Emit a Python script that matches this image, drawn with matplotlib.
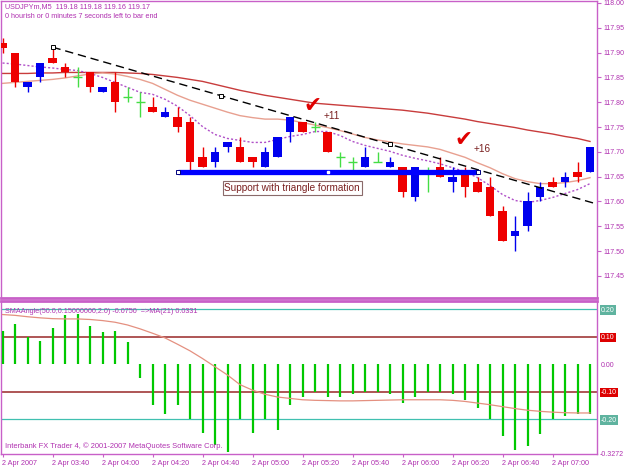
import matplotlib
matplotlib.use('Agg')
import matplotlib.pyplot as plt
import numpy as np
from matplotlib.transforms import ScaledTranslation

# ---------------- data ----------------
opens  = [117.92, 117.90, 117.83, 117.85, 117.89, 117.87, 117.85, 117.86, 117.82, 117.84,
          117.81, 117.80, 117.79, 117.77, 117.77, 117.76, 117.69, 117.68, 117.71, 117.71,
          117.69, 117.67, 117.69, 117.74, 117.76, 117.75, 117.74, 117.69, 117.68, 117.67,
          117.68, 117.67, 117.67, 117.61, 117.66, 117.67, 117.64, 117.66, 117.64, 117.63,
          117.58, 117.53, 117.55, 117.61, 117.64, 117.64, 117.66, 117.66]
highs  = [117.93, 117.90, 117.84, 117.88, 117.91, 117.88, 117.87, 117.86, 117.83, 117.86,
          117.83, 117.82, 117.81, 117.79, 117.79, 117.77, 117.71, 117.71, 117.72, 117.73,
          117.69, 117.71, 117.73, 117.77, 117.76, 117.76, 117.74, 117.70, 117.69, 117.71,
          117.70, 117.69, 117.67, 117.67, 117.67, 117.69, 117.67, 117.67, 117.65, 117.65,
          117.59, 117.57, 117.62, 117.64, 117.65, 117.66, 117.68, 117.71]
lows   = [117.90, 117.83, 117.82, 117.84, 117.88, 117.85, 117.83, 117.82, 117.82, 117.78,
          117.80, 117.77, 117.78, 117.77, 117.74, 117.66, 117.67, 117.67, 117.70, 117.68,
          117.67, 117.67, 117.69, 117.72, 117.74, 117.74, 117.70, 117.67, 117.66, 117.67,
          117.68, 117.67, 117.61, 117.60, 117.62, 117.65, 117.62, 117.61, 117.62, 117.57,
          117.52, 117.50, 117.54, 117.60, 117.63, 117.63, 117.64, 117.66]
closes = [117.91, 117.84, 117.84, 117.88, 117.88, 117.86, 117.85, 117.83, 117.83, 117.80,
          117.81, 117.80, 117.78, 117.78, 117.75, 117.68, 117.67, 117.70, 117.72, 117.68,
          117.68, 117.70, 117.73, 117.77, 117.74, 117.75, 117.70, 117.69, 117.68, 117.69,
          117.68, 117.68, 117.62, 117.67, 117.66, 117.65, 117.65, 117.63, 117.62, 117.57,
          117.52, 117.54, 117.60, 117.63, 117.63, 117.65, 117.65, 117.71]

ma_slow = [117.858, 117.858, 117.858, 117.859, 117.859, 117.860, 117.860, 117.860, 117.860, 117.860,
           117.859, 117.858, 117.856, 117.853, 117.850, 117.846, 117.842, 117.836, 117.830, 117.824,
           117.819, 117.814, 117.810, 117.806, 117.802, 117.798, 117.796, 117.794, 117.792, 117.790,
           117.788, 117.786, 117.784, 117.781, 117.778, 117.774, 117.770, 117.766, 117.761, 117.757,
           117.753, 117.749, 117.744, 117.740, 117.736, 117.731, 117.727, 117.721]
ma_mid  = [117.838, 117.840, 117.842, 117.844, 117.846, 117.849, 117.853, 117.857, 117.859, 117.857,
           117.852, 117.846, 117.838, 117.826, 117.814, 117.804, 117.796, 117.788, 117.780, 117.773,
           117.769, 117.766, 117.766, 117.764, 117.759, 117.754, 117.749, 117.743, 117.736, 117.729,
           117.724, 117.720, 117.716, 117.713, 117.710, 117.705, 117.697, 117.689, 117.678, 117.668,
           117.656, 117.646, 117.640, 117.636, 117.636, 117.638, 117.642, 117.648]
ma_fast = [117.879, 117.877, 117.874, 117.871, 117.869, 117.866, 117.864, 117.858, 117.850, 117.840,
           117.830, 117.820, 117.816, 117.806, 117.792, 117.773, 117.751, 117.735, 117.727, 117.723,
           117.719, 117.719, 117.725, 117.731, 117.735, 117.741, 117.741, 117.733, 117.721, 117.713,
           117.707, 117.701, 117.693, 117.687, 117.682, 117.676, 117.668, 117.660, 117.648, 117.632,
           117.614, 117.602, 117.598, 117.602, 117.608, 117.616, 117.624, 117.636]

angle = [0.120, 0.145, 0.098, 0.084, 0.131, 0.178, 0.182, 0.138, 0.116, 0.120,
         0.080, -0.050, -0.150, -0.180, -0.150, -0.200, -0.250, -0.295, -0.320, -0.200,
         -0.250, -0.200, -0.240, -0.150, -0.120, -0.100, -0.120, -0.120, -0.110, -0.100,
         -0.100, -0.110, -0.140, -0.120, -0.100, -0.100, -0.110, -0.130, -0.160, -0.200,
         -0.260, -0.312, -0.298, -0.255, -0.200, -0.190, -0.180, -0.180]
angle_ma = [0.180, 0.177, 0.172, 0.168, 0.165, 0.164, 0.164, 0.162, 0.158, 0.152,
            0.142, 0.128, 0.112, 0.095, 0.072, 0.048, 0.020, -0.010, -0.040, -0.075,
            -0.095, -0.110, -0.120, -0.125, -0.130, -0.132, -0.133, -0.134, -0.134, -0.133,
            -0.132, -0.131, -0.130, -0.130, -0.130, -0.130, -0.132, -0.136, -0.142, -0.148,
            -0.155, -0.162, -0.168, -0.172, -0.175, -0.177, -0.178, -0.178]

trend_bars = [4, 31]
trend_prices = [117.911, 117.715]
support_bars = [14, 38]
support_price = 117.66

price_ticks = [118.00, 117.95, 117.90, 117.85, 117.80, 117.75, 117.70, 117.65, 117.60, 117.55, 117.50, 117.45]
angle_levels = [0.20, 0.10, 0.00, -0.10, -0.20, -0.3272]
angle_level_labels = ['0.20', '0.10', '0.00', '-0.10', '-0.20', '-0.3272']
time_bars = [0, 4, 8, 12, 16, 20, 24, 28, 32, 36, 40, 44]
time_labels = ['2 Apr 2007', '2 Apr 03:40', '2 Apr 04:00', '2 Apr 04:20', '2 Apr 04:40', '2 Apr 05:00',
               '2 Apr 05:20', '2 Apr 05:40', '2 Apr 06:00', '2 Apr 06:20', '2 Apr 06:40', '2 Apr 07:00']

# ---------------- style ----------------
PURPLE = '#b030b0'
FRAME = '#c860c8'
RED = '#ee0000'
BLUE = '#0000ee'
GREEN = '#44dd44'
FONT = 'Liberation Sans'
FS = 5.0
small = dict(family=FONT, fontsize=5.2, color=PURPLE)

fig = plt.figure(figsize=(6.25, 4.69), dpi=100)
W, H = 625, 469
def rect(x0, y0, x1, y1):
    return [x0 / W, 1 - y1 / H, (x1 - x0) / W, (y1 - y0) / H]

ax = fig.add_axes(rect(1, 1, 597, 298))
ax2 = fig.add_axes(rect(1, 301, 597, 454))

x = np.arange(len(opens))
xlim = (-0.12, 47.56)

# candles
for i in x:
    o, h, l, c = opens[i], highs[i], lows[i], closes[i]
    col = BLUE if c > o else (RED if c < o else GREEN)
    ax.vlines(i, l, h, color=col, lw=1.0, zorder=3)
    if c != o:
        ax.bar(i, abs(c - o), bottom=min(o, c), width=0.68, color=col, lw=0, zorder=4)
    else:
        ax.hlines(o, i - 0.36, i + 0.36, color=col, lw=1.0, zorder=4)

# moving averages
ax.plot(x, ma_slow, color='#c83c3c', lw=1.0, zorder=2)
ax.plot(x, ma_mid, color='#e8a090', lw=1.0, zorder=2)
ax.plot(x, ma_fast, color='#b050c8', lw=1.0, ls=(0, (1.5, 1.5)), zorder=2)

# trendline (ray to the right)
slope = (trend_prices[1] - trend_prices[0]) / (trend_bars[1] - trend_bars[0])
xe = xlim[1]
ax.plot([trend_bars[0], xe], [trend_prices[0], trend_prices[0] + slope * (xe - trend_bars[0])],
        color='black', lw=1.0, ls=(0, (6, 3.5)), zorder=5)
tm = (trend_bars[0] + trend_bars[1]) / 2
ax.plot([trend_bars[0], tm, trend_bars[1]],
        [trend_prices[0], trend_prices[0] + slope * (tm - trend_bars[0]), trend_prices[1]],
        ls='none', marker='s', ms=3, mfc='white', mec='black', mew=0.7, zorder=6)

# support line
ax.plot(support_bars, [support_price, support_price], color='#0000ff', lw=3.8,
        solid_capstyle='butt', zorder=6)
ax.plot(support_bars, [support_price, support_price], ls='none', marker='s', ms=3.5,
        mfc='white', mec='#000080', mew=0.7, zorder=7)
ax.plot([(support_bars[0] + support_bars[1]) / 2], [support_price], ls='none', marker='s', ms=1.8,
        mfc='white', mec='white', zorder=7)

ax.text(17.75, 117.627, 'Support with triangle formation', family=FONT, fontsize=7.2,
        color='#7a2020', va='center', ha='left', zorder=8,
        bbox=dict(boxstyle='square,pad=0.18', fc='white', ec='#8a6a6a', lw=0.8))

# check marks
ax.text(24.8, 117.793, '\u2714', family='DejaVu Sans', fontsize=15.5, color='#e00000',
        ha='center', va='center', zorder=8)
ax.text(26.35, 117.773, '+11', family=FONT, fontsize=7.2, color='#7a2020', ha='center', va='center', zorder=8)
ax.text(36.9, 117.723, '\u2714', family='DejaVu Sans', fontsize=15.5, color='#e00000',
        ha='center', va='center', zorder=8)
ax.text(38.35, 117.705, '+16', family=FONT, fontsize=7.2, color='#7a2020', ha='center', va='center', zorder=8)

# header texts
ax.text(0.006, 0.993, 'USDJPYm,M5  119.18 119.18 119.16 119.17', transform=ax.transAxes,
        va='top', ha='left', **small)
ax.text(0.006, 0.958, '0 hourish or 0 minutes 7 seconds left to bar end', transform=ax.transAxes,
        va='top', ha='left', **small)

ax.set_xlim(*xlim)
ax.set_ylim(117.4055, 118.004)
ax.set_yticks(price_ticks)
ax.set_yticklabels([f'{p:.2f}' for p in price_ticks])
ax.yaxis.tick_right()
ax.tick_params(axis='y', direction='out', length=3, width=0.8, color=FRAME, pad=2,
               labelsize=FS, labelcolor=PURPLE)
for lab in ax.get_yticklabels():
    lab.set_family(FONT)
ax.set_xticks([])

# ---------------- lower panel ----------------
ax2.vlines(x, 0, angle, color='#00c800', lw=1.6, zorder=3)
ax2.plot(x, angle_ma, color='#e49080', lw=0.9, zorder=4)
for lvl, col, lw in [(0.20, '#40c0b0', 0.9), (0.10, '#a84848', 1.3),
                     (-0.10, '#a84848', 1.3), (-0.20, '#40c0b0', 0.9)]:
    ax2.axhline(lvl, color=col, lw=lw, zorder=2)

ax2.text(0.007, 0.955, 'SMAAngle(50.0,0.15000000,2.0) -0.0750  =>MA(21) 0.0331',
         transform=ax2.transAxes, va='top', ha='left', zorder=6, **small)
ax2.text(0.007, 0.025, 'Interbank FX Trader 4, \u00a9 2001-2007 MetaQuotes Software Corp.',
         transform=ax2.transAxes, va='bottom', ha='left', zorder=6, family=FONT, fontsize=5.4,
         color=PURPLE)

ax2.set_xlim(*xlim)
ax2.set_ylim(-0.3272, 0.2292)
ax2.yaxis.tick_right()
ax2.set_yticks(angle_levels)
ax2.set_yticklabels(angle_level_labels)
ax2.tick_params(axis='y', direction='out', length=0, pad=3, labelsize=FS, labelcolor=PURPLE)
box_styles = {'0.20': '#5fb39f', '-0.20': '#5fb39f', '0.10': '#dd0000', '-0.10': '#dd0000'}
for lab in ax2.get_yticklabels():
    lab.set_family(FONT)
    t = lab.get_text()
    if t in box_styles:
        lab.set_color('white')
        lab.set_bbox(dict(boxstyle='square,pad=0.15', fc=box_styles[t], ec='none'))
    if t == '-0.3272':
        lab.set_transform(lab.get_transform() + ScaledTranslation(-0.01, 0.01, fig.dpi_scale_trans))

ax2.set_xticks(time_bars)
ax2.set_xticklabels(time_labels)
ax2.tick_params(axis='x', direction='out', length=2.5, width=0.8, color=FRAME, pad=1.5,
                labelsize=5.2, labelcolor=PURPLE)
for lab in ax2.get_xticklabels():
    lab.set_family(FONT)
    lab.set_horizontalalignment('left')

for a in (ax, ax2):
    for s in a.spines.values():
        s.set_color(FRAME)
        s.set_linewidth(1.0)
ax.spines['bottom'].set_linewidth(2.0)
ax2.spines['top'].set_linewidth(2.0)

fig.savefig('out.png', dpi=100, facecolor='white')
